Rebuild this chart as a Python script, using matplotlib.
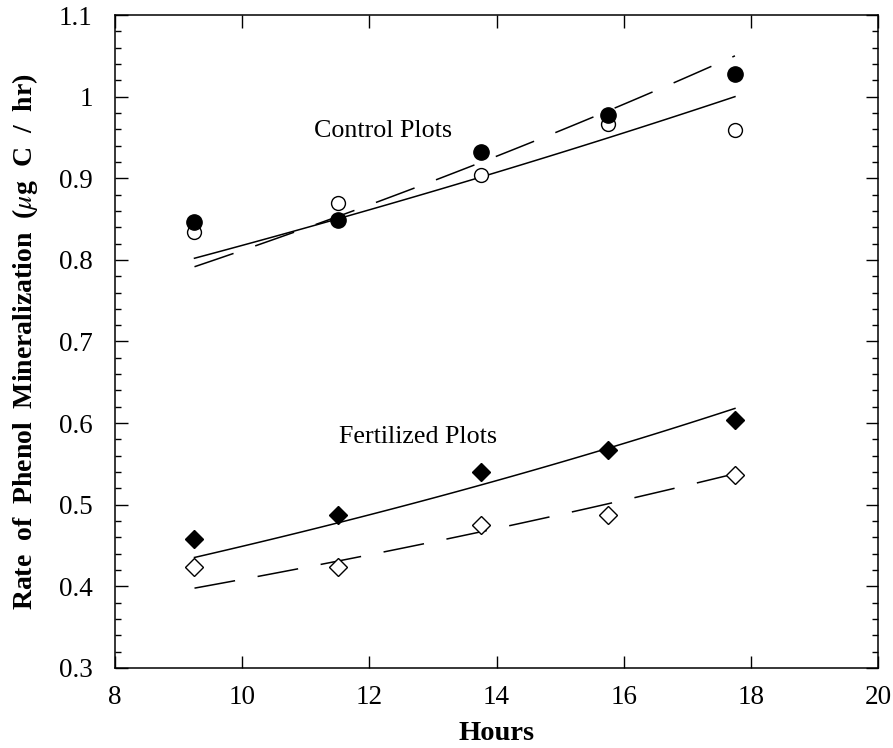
import matplotlib.pyplot as plt
import numpy as np
from matplotlib.ticker import MultipleLocator

plt.rcParams['font.family'] = ['Liberation Serif', 'DejaVu Serif']
plt.rcParams['mathtext.fontset'] = 'stix'

# sampling times (hours)
hours = [9.25, 11.5, 13.75, 15.75, 17.75]

# control plots
control_filled = [0.847, 0.849, 0.932, 0.977, 1.028]
control_open = [0.834, 0.870, 0.904, 0.967, 0.959]
# fitted exponential curves (value at first and last hour)
control_fit_solid = [0.802, 1.000]
control_fit_dash = [0.7916, 1.050]

# fertilized plots
fert_filled = [0.458, 0.488, 0.540, 0.567, 0.604]
fert_open = [0.424, 0.424, 0.475, 0.488, 0.537]
fert_fit_solid = [0.4354, 0.618]
fert_fit_dash = [0.3978, 0.538]


def exp_curve(t, ends):
    # exponential through the two end values
    t0, t1 = hours[0], hours[-1]
    b = np.log(ends[1] / ends[0]) / (t1 - t0)
    return ends[0] * np.exp(b * (t - t0))


t = np.linspace(hours[0], hours[-1], 100)

fig = plt.figure(figsize=(8.93, 7.48), dpi=100)
ax = fig.add_axes([0.1288, 0.107, 0.8544, 0.8729])

ax.plot(t, exp_curve(t, control_fit_solid), color='black', lw=1.1)
ax.plot(t, exp_curve(t, control_fit_dash), color='black', lw=1.1, dashes=(27, 15))
ax.plot(t, exp_curve(t, fert_fit_solid), color='black', lw=1.1)
ax.plot(t, exp_curve(t, fert_fit_dash), color='black', lw=1.1, dashes=(27, 15))

ax.plot(hours, control_open, 'o', ms=10, mfc='white', mec='black', mew=1.0, zorder=3)
ax.plot(hours, control_filled, 'o', ms=11, mfc='black', mec='black', zorder=4)
ax.plot(hours, fert_open, 'D', ms=9, mfc='white', mec='black', mew=1.0, zorder=3)
ax.plot(hours, fert_filled, 'D', ms=9, mfc='black', mec='black', zorder=4)

ax.text(12.22, 0.958, 'Control Plots', fontsize=18.7, ha='center', va='center')
ax.text(12.76, 0.583, 'Fertilized Plots', fontsize=18.7, ha='center', va='center')

ax.set_xlim(8, 20)
ax.set_ylim(0.3, 1.1)
ax.xaxis.set_major_locator(MultipleLocator(2))
ax.yaxis.set_minor_locator(MultipleLocator(0.02))
ax.set_yticks([0.3, 0.4, 0.5, 0.6, 0.7, 0.8, 0.9, 1.0, 1.1])
ax.set_yticklabels(['0.3', '0.4', '0.5', '0.6', '0.7', '0.8', '0.9', '1', '1.1'])

ax.tick_params(which='both', direction='in', top=True, right=True, labelsize=19.5, width=1)
ax.tick_params(which='major', length=9)
ax.tick_params(axis='x', which='major', pad=12)
ax.tick_params(axis='y', which='major', pad=16)
ax.tick_params(which='minor', length=4.5)
for s in ax.spines.values():
    s.set_linewidth(1.1)

ax.set_xlabel('Hours', fontsize=20.5, fontweight='bold', labelpad=8)
ax.set_ylabel(r'Rate  of  Phenol  Mineralization  ($\mu$g  C  /  hr)', fontsize=20,
              fontweight='bold', labelpad=14)

plt.savefig('out.png', dpi=100)
